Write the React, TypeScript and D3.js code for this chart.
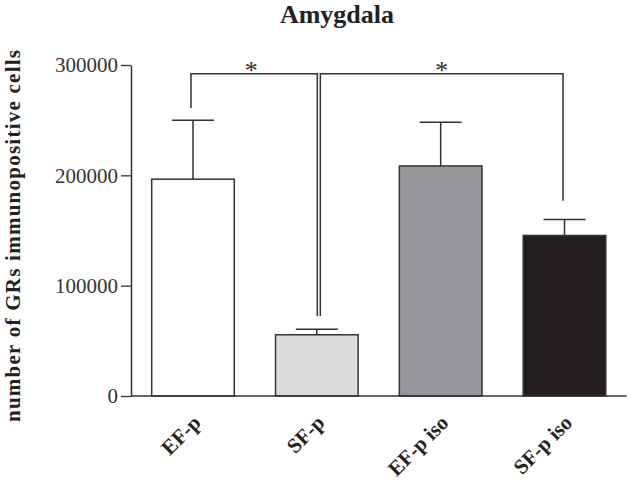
import { useEffect, useRef } from "react";
import * as d3 from "d3";

const groups = ["EF-p", "SF-p", "EF-p iso", "SF-p iso"];
const means = [196500, 55500, 208500, 145500];
const errors = [250000, 60500, 248000, 160000];
const fills = ["#ffffff", "#d9dadc", "#96979b", "#231f20"];
const yTicks = [0, 100000, 200000, 300000];

const FONT = "'Liberation Serif', 'Times New Roman', serif";

const AmygdalaChart = () => {
  const svgRef = useRef<SVGSVGElement>(null);

  useEffect(() => {
    if (!svgRef.current) return;
    d3.select(svgRef.current).selectAll("*").remove();

    const width = 630;
    const height = 481;
    const left = 131;
    const right = 626.5;
    const top = 65;
    const bottom = 396;
    const ink = "#333333";

    const svg = d3
      .select(svgRef.current)
      .attr("width", width)
      .attr("height", height)
      .style("font-family", FONT);

    svg.append("rect").attr("width", width).attr("height", height).attr("fill", "#fff");

    const x = d3
      .scaleBand()
      .domain(groups)
      .range([left, right])
      .paddingInner(0.333)
      .paddingOuter(0.167);

    const y = d3.scaleLinear().domain([0, 300000]).range([bottom, top]);

    // title
    svg
      .append("text")
      .attr("x", 337)
      .attr("y", 23)
      .attr("text-anchor", "middle")
      .style("font-size", "26px")
      .style("font-weight", "bold")
      .style("fill", "#222")
      .text("Amygdala");

    // y axis
    const yAxis = svg
      .append("g")
      .attr("transform", `translate(${left},0)`)
      .call(d3.axisLeft(y).tickValues(yTicks).tickSize(10).tickSizeOuter(0).tickPadding(3).tickFormat(d3.format("d")));
    yAxis.select(".domain").attr("stroke", ink).attr("stroke-width", 1.5);
    yAxis.selectAll(".tick line").attr("stroke", ink).attr("stroke-width", 1.3);
    yAxis
      .selectAll(".tick text")
      .style("font-family", FONT)
      .style("font-size", "21px")
      .style("fill", "#333");

    // y label
    svg
      .append("text")
      .attr("transform", "translate(20,236) rotate(-90)")
      .attr("text-anchor", "middle")
      .attr("textLength", 372)
      .attr("lengthAdjust", "spacing")
      .style("font-size", "21px")
      .style("font-weight", "bold")
      .style("fill", "#222")
      .text("number of GRs immunopositive cells");

    // bars
    svg
      .selectAll(".bar")
      .data(groups)
      .join("rect")
      .attr("class", "bar")
      .attr("x", (d) => x(d) as number)
      .attr("y", (_, i) => y(means[i]))
      .attr("width", x.bandwidth())
      .attr("height", (_, i) => bottom - y(means[i]))
      .attr("fill", (_, i) => fills[i])
      .attr("stroke", ink)
      .attr("stroke-width", 1.5);

    // error bars
    const cx = (d: string) => (x(d) as number) + x.bandwidth() / 2;
    const err = svg.append("g").attr("stroke", ink).attr("stroke-width", 1.5);
    err
      .selectAll(".stem")
      .data(groups)
      .join("line")
      .attr("x1", cx)
      .attr("x2", cx)
      .attr("y1", (_, i) => y(means[i]))
      .attr("y2", (_, i) => y(errors[i]));
    err
      .selectAll(".cap")
      .data(groups)
      .join("line")
      .attr("x1", (d) => cx(d) - 21)
      .attr("x2", (d) => cx(d) + 21)
      .attr("y1", (_, i) => y(errors[i]))
      .attr("y2", (_, i) => y(errors[i]));

    // x axis
    svg
      .append("line")
      .attr("x1", left)
      .attr("x2", right)
      .attr("y1", bottom)
      .attr("y2", bottom)
      .attr("stroke", ink)
      .attr("stroke-width", 1.5);

    // x labels
    svg
      .selectAll(".xlabel")
      .data(groups)
      .join("text")
      .attr("class", "xlabel")
      .attr("text-anchor", "end")
      .attr("transform", (d) => `translate(${cx(d) + 9},${bottom + 28}) rotate(-45)`)
      .style("font-size", "21px")
      .style("font-weight", "bold")
      .style("fill", "#222")
      .text((d) => d);

    // significance brackets
    const barTop = y(292000);
    const br = svg.append("g").attr("fill", "none").attr("stroke", ink).attr("stroke-width", 1.5);
    const path = d3.line();
    br.append("path").attr(
      "d",
      path([
        [cx("EF-p") - 2, y(261000)],
        [cx("EF-p") - 2, barTop],
        [cx("SF-p") + 0.5, barTop],
        [cx("SF-p") + 0.5, y(72500)],
      ])
    );
    br.append("path").attr(
      "d",
      path([
        [cx("SF-p") + 3.5, y(72500)],
        [cx("SF-p") + 3.5, barTop],
        [cx("SF-p iso") - 1.5, barTop],
        [cx("SF-p iso") - 1.5, y(177000)],
      ])
    );

    const stars = [
      (cx("EF-p") - 2 + cx("SF-p") + 0.5) / 2 - 3,
      (cx("SF-p") + 3.5 + cx("SF-p iso") - 1.5) / 2,
    ];
    svg
      .selectAll(".star")
      .data(stars)
      .join("text")
      .attr("class", "star")
      .attr("x", (d) => d)
      .attr("y", barTop + 5)
      .attr("text-anchor", "middle")
      .style("font-size", "26px")
      .style("fill", "#333")
      .text("*");
  }, []);

  return <svg ref={svgRef} style={{ position: "absolute", left: 0, top: 0 }}></svg>;
};

export default function App() {
  return <AmygdalaChart />;
}
